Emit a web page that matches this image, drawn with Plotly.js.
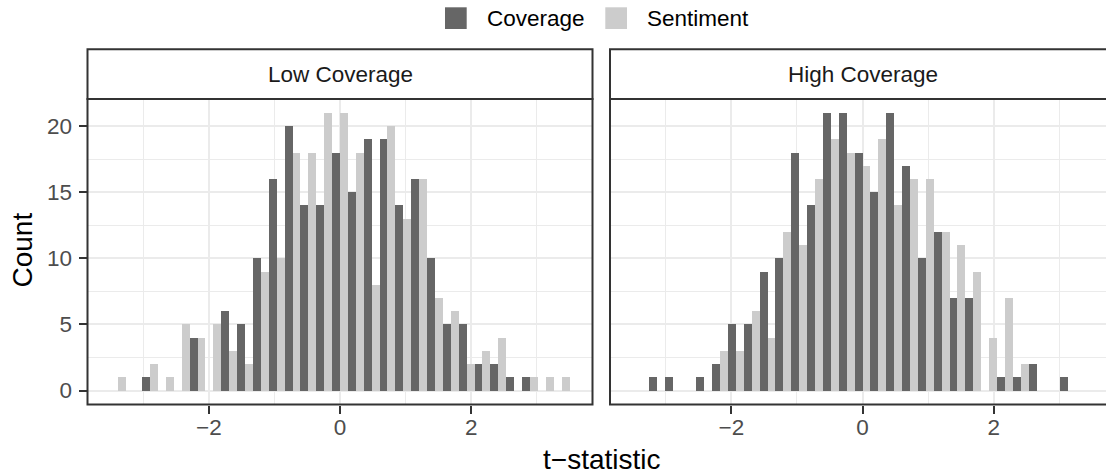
<!DOCTYPE html>
<html>
<head>
<meta charset="utf-8">
<script src="https://cdn.plot.ly/plotly-3.0.1.min.js"></script>
<style>html,body{margin:0;padding:0;background:#fff;}#chart{width:1106px;height:476px;}</style>
</head>
<body>
<div id="chart"></div>
<script>
// ---- data (bin centers of t-statistic, shared by both facets) ----
var binCenters = [-3.379, -3.138, -2.897, -2.655, -2.414, -2.172, -1.931, -1.690, -1.448, -1.207,
                  -0.966, -0.724, -0.483, -0.241, 0.000, 0.241, 0.483, 0.724, 0.966, 1.207,
                  1.448, 1.690, 1.931, 2.172, 2.414, 2.655, 2.897, 3.138, 3.379];
var seriesNames = ["Coverage", "Sentiment"];
var facetNames = ["Low Coverage", "High Coverage"];
var lowCoverage  = [0,0,1,0,0,4,0,6,5,10,16,20,14,14,18,15,19,19,14,16,10,5,5,2,2,1,1,0,0];
var lowSentiment = [1,0,2,1,5,4,5,3,2,9,10,18,18,21,21,18,8,20,13,16,7,6,2,3,4,0,1,1,1];
var highCoverage  = [0,1,1,0,1,2,5,5,9,10,18,14,21,21,18,15,21,17,10,12,7,7,0,1,1,2,0,1,0];
var highSentiment = [0,0,0,0,0,3,3,6,4,12,11,16,19,18,17,19,14,16,16,12,11,9,4,7,2,0,0,0,0];
var xTickVals = [-2, 0, 2];
var xTickText = ["\u22122", "0", "2"];
var xMinorVals = [-3, -1, 1, 3];
var yTickVals = [0, 5, 10, 15, 20];
var yMinorVals = [2.5, 7.5, 12.5, 17.5];
var colors = ["#666666", "#CCCCCC"];

// ---- layout helpers (pixel -> paper) ----
var W = 1106, H = 476;
function fx(p) { return p / W; }
function fy(p) { return 1 - p / H; }
var FONT = "Liberation Sans, Arial, Helvetica, sans-serif";
var P1 = [87.5, 592.5], P2 = [610, 1115], PY = [99, 404.5], SY = [49.3, 99];

function barTrace(name, y, color, xa, ya) {
  return { type: "bar", name: name, x: binCenters, y: y, xaxis: xa, yaxis: ya,
           marker: { color: color, line: { width: 0 } }, showlegend: false,
           hovertemplate: name + ": %{y}<extra></extra>" };
}
var data = [
  barTrace(seriesNames[0], lowCoverage,  colors[0], "x",  "y"),
  barTrace(seriesNames[1], lowSentiment, colors[1], "x",  "y"),
  barTrace(seriesNames[0], highCoverage,  colors[0], "x2", "y2"),
  barTrace(seriesNames[1], highSentiment, colors[1], "x2", "y2")
];

var gridMajor = "#EBEBEB";
function xAxis(domain, range, anchor) {
  return { domain: domain, range: range, anchor: anchor, tickmode: "array",
           tickvals: xTickVals, ticktext: xTickText, ticks: "outside", ticklen: 8, tickwidth: 2,
           tickcolor: "#333333", showline: false, zeroline: false, showgrid: true,
           gridcolor: gridMajor, gridwidth: 2, ticklabelstandoff: -6,
           tickfont: { family: FONT, size: 22.5, color: "#4D4D4D" },
           minor: { tickmode: "array", tickvals: xMinorVals, showgrid: true, gridcolor: gridMajor, gridwidth: 1, ticks: "" },
           fixedrange: true };
}
function yAxis(anchor, showLabels) {
  return { domain: [fy(PY[1]), fy(PY[0])], range: [-1.05, 22.05], anchor: anchor,
           tickmode: "array", tickvals: yTickVals, showticklabels: showLabels,
           ticks: showLabels ? "outside" : "", ticklen: 8, tickwidth: 2, tickcolor: "#333333",
           showline: false, zeroline: false, showgrid: true, gridcolor: gridMajor, gridwidth: 2,
           ticklabelstandoff: 2,
           tickfont: { family: FONT, size: 22.5, color: "#4D4D4D" },
           minor: { tickmode: "array", tickvals: yMinorVals, showgrid: true, gridcolor: gridMajor, gridwidth: 1, ticks: "" },
           fixedrange: true };
}

var shapes = [];
function rect(x0, x1, y0, y1, fill, layer) {
  shapes.push({ type: "rect", xref: "paper", yref: "paper", x0: fx(x0), x1: fx(x1), y0: fy(y1), y1: fy(y0),
                line: { color: "#333333", width: 2 }, fillcolor: fill, layer: layer || "above" });
}
rect(P1[0], P1[1], PY[0], PY[1], "rgba(0,0,0,0)");
rect(P2[0], P2[1], PY[0], PY[1], "rgba(0,0,0,0)");
rect(P1[0], P1[1], SY[0], SY[1], "#FFFFFF");
rect(P2[0], P2[1], SY[0], SY[1], "#FFFFFF");
// legend keys
shapes.push({ type: "rect", xref: "paper", yref: "paper", x0: fx(445), x1: fx(466.7), y0: fy(29), y1: fy(7.3),
              line: { width: 0 }, fillcolor: colors[0] });
shapes.push({ type: "rect", xref: "paper", yref: "paper", x0: fx(605.3), x1: fx(627), y0: fy(29), y1: fy(7.3),
              line: { width: 0 }, fillcolor: colors[1] });

var annotations = [
  { text: seriesNames[0], x: fx(485), y: fy(18.5), xanchor: "left", yanchor: "middle", font: { family: FONT, size: 22.5, color: "#000000" } },
  { text: seriesNames[1], x: fx(645), y: fy(18.5), xanchor: "left", yanchor: "middle", font: { family: FONT, size: 22.5, color: "#000000" } },
  { text: facetNames[0], x: fx((P1[0] + P1[1]) / 2), y: fy(74.5), xanchor: "center", yanchor: "middle", font: { family: FONT, size: 22.5, color: "#1A1A1A" } },
  { text: facetNames[1], x: fx((P2[0] + P2[1]) / 2), y: fy(74.5), xanchor: "center", yanchor: "middle", font: { family: FONT, size: 22.5, color: "#1A1A1A" } },
  { text: "t\u2212statistic", x: fx(601), y: fy(459), xanchor: "center", yanchor: "middle", font: { family: FONT, size: 28, color: "#000000" } },
  { text: "Count", x: fx(21.5), y: fy(250), xanchor: "center", yanchor: "middle", textangle: -90, font: { family: FONT, size: 28, color: "#000000" } }
];
annotations.forEach(function (a) { a.xref = "paper"; a.yref = "paper"; a.showarrow = false; });

var layout = {
  width: W, height: H, margin: { l: 0, r: 0, t: 0, b: 0 },
  paper_bgcolor: "#FFFFFF", plot_bgcolor: "#FFFFFF",
  barmode: "group", bargap: 0, bargroupgap: 0, showlegend: false,
  font: { family: FONT },
  xaxis: xAxis([fx(P1[0]), fx(P1[1])], [-3.85, 3.85], "y"),
  xaxis2: xAxis([fx(P2[0]), 1], [-3.85, -3.85 + (W - P2[0]) / (P1[1] - P1[0]) * 7.7], "y2"),
  yaxis: yAxis("x", true),
  yaxis2: yAxis("x2", false),
  shapes: shapes, annotations: annotations
};
Plotly.newPlot("chart", data, layout, { staticPlot: true, displayModeBar: false });
</script>
</body>
</html>
